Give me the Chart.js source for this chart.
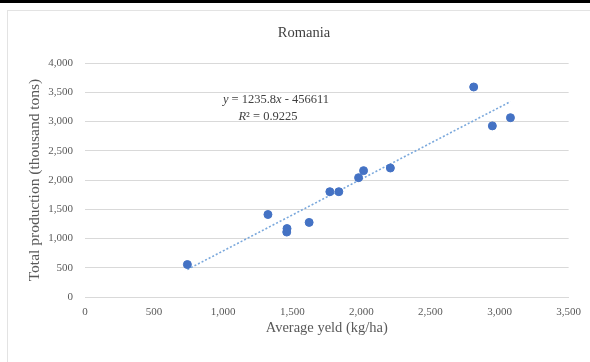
<!DOCTYPE html>
<html>
<head>
<meta charset="utf-8">
<script src="https://cdn.jsdelivr.net/npm/chart.js@4"></script>
<style>
	html, body { margin: 0; padding: 0; background: #fff; }
	#wrap { position: relative; width: 590px; height: 362px; }
	#topbar { position: absolute; left: 0; top: 0; width: 590px; height: 3px; background: #000; }
	#frame { position: absolute; left: 7px; top: 10px; width: 600px; height: 400px; border: 1px solid #e3e3e3; box-sizing: border-box; }
	canvas { position: absolute; left: 0; top: 0; }
</style>
</head>
<body>
<div id="wrap">
	<div id="frame"></div>
	<div id="topbar"></div>
	<canvas id="chart" width="590" height="362"></canvas>
</div>
<script>
// values
var yieldKgHa = [741, 1324, 1460, 1462, 1622, 1772, 1837, 1980, 2016, 2210, 2813, 2948, 3079];
var production = [555, 1410, 1110, 1170, 1275, 1800, 1800, 2040, 2160, 2205, 3590, 2925, 3065];
var trendX = [741, 3079];
var trendY = [470, 3340];
var xTicks = [0, 500, 1000, 1500, 2000, 2500, 3000, 3500];
var yTicks = [0, 500, 1000, 1500, 2000, 2500, 3000, 3500, 4000];

var serif = "'Liberation Serif', 'DejaVu Serif', serif";

var points = [];
for (let i = 0; i < yieldKgHa.length; i++) {
	points.push({ x: yieldKgHa[i], y: production[i] });
}
var trend = [];
for (let i = 0; i < trendX.length; i++) {
	trend.push({ x: trendX[i], y: trendY[i] });
}

// title + regression equation, drawn like excel places them
var textLabels = {
	id: 'textLabels',
	afterDatasetsDraw(chart) {
		const ctx = chart.ctx;
		ctx.save();
		ctx.textBaseline = 'middle';
		ctx.fillStyle = '#404040';
		ctx.textAlign = 'center';
		ctx.font = '14.5px ' + serif;
		ctx.fillText('Romania', 304, 33);
		ctx.textAlign = 'left';
		const parts1 = [['y', true], [' = 1235.8', false], ['x', true], [' - 456611', false]];
		const parts2 = [['R', true], ['\u00b2', false], [' = 0.9225', false]];
		drawParts(ctx, parts1, 276, 100);
		drawParts(ctx, parts2, 268, 117);
		ctx.restore();
	}
};

function drawParts(ctx, parts, cx, y) {
	let total = 0;
	for (let p of parts) {
		ctx.font = (p[1] ? 'italic ' : '') + '12.5px ' + serif;
		total += ctx.measureText(p[0]).width;
	}
	let x = cx - total / 2;
	for (let p of parts) {
		ctx.font = (p[1] ? 'italic ' : '') + '12.5px ' + serif;
		ctx.fillText(p[0], x, y);
		x += ctx.measureText(p[0]).width;
	}
}

var ctx = document.getElementById('chart').getContext('2d');
var chart = new Chart(ctx, {
	type: 'scatter',
	data: {
		datasets: [{
			data: points,
			backgroundColor: '#4472c4',
			borderColor: '#4472c4',
			pointRadius: 4,
			pointHoverRadius: 4
		}, {
			type: 'line',
			data: trend,
			borderColor: '#7aa8dc',
			borderWidth: 1.6,
			borderDash: [2, 2],
			pointRadius: 0,
			fill: false
		}]
	},
	plugins: [textLabels],
	options: {
		responsive: false,
		animation: false,
		events: [],
		layout: { padding: { top: 63, left: 10, right: 20, bottom: 0 } },
		plugins: {
			legend: { display: false },
			tooltip: { enabled: false },
			title: { display: false }
		},
		scales: {
			x: {
				type: 'linear',
				min: 0,
				max: 3500,
				afterBuildTicks(scale) {
					scale.ticks = xTicks.map(v => ({ value: v }));
				},
				afterFit(scale) { scale.height = 65; },
				grid: { display: false, drawTicks: false },
				border: { display: true, color: '#d9d9d9', width: 1 },
				ticks: {
					color: '#595959',
					padding: 9,
					maxRotation: 0,
					font: { family: serif, size: 11 },
					callback: v => v.toLocaleString('en-US')
				},
				title: {
					display: true,
					text: 'Average yeld (kg/ha)',
					color: '#595959',
					font: { family: serif, size: 14.5 },
					padding: { top: 0, bottom: 25 }
				}
			},
			y: {
				min: 0,
				max: 4000,
				afterBuildTicks(scale) {
					scale.ticks = yTicks.map(v => ({ value: v }));
				},
				afterFit(scale) { scale.width = 75; },
				grid: { color: '#d9d9d9', drawTicks: false },
				border: { display: false },
				ticks: {
					color: '#595959',
					padding: 12,
					font: { family: serif, size: 11 },
					callback: v => v.toLocaleString('en-US')
				},
				title: {
					display: true,
					text: 'Total production (thousand tons)',
					color: '#595959',
					font: { family: serif, size: 15.5 },
					padding: { top: 16, bottom: 0 }
				}
			}
		}
	}
});
</script>
</body>
</html>
